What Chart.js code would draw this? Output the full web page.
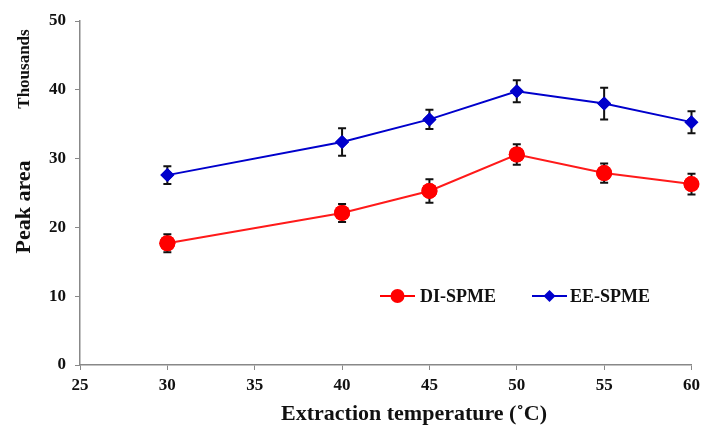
<!DOCTYPE html>
<html>
<head>
<meta charset="utf-8">
<script src="https://cdn.jsdelivr.net/npm/chart.js@4/dist/chart.umd.min.js"></script>
<style>
html,body{margin:0;padding:0;background:#fff;}
#wrap{position:relative;width:705px;height:428px;}
</style>
</head>
<body>
<div id="wrap"><canvas id="c" width="705" height="428"></canvas></div>
<script>
const temperatures = [30, 40, 45, 50, 55, 60];
const diSpme = [17.7, 22.1, 25.3, 30.6, 27.9, 26.3];
const diSpmeErr = [1.3, 1.3, 1.7, 1.5, 1.4, 1.5];
const eeSpme = [27.6, 32.4, 35.7, 39.8, 38.0, 35.3];
const eeSpmeErr = [1.3, 2.0, 1.4, 1.6, 2.3, 1.6];
const xTicks = [25, 30, 35, 40, 45, 50, 55, 60];
const yTicks = [0, 10, 20, 30, 40, 50];
const xTitle = 'Extraction temperature (˚C)';
const yTitle = 'Peak area';
const yUnit = 'Thousands';

const FONT = "'Liberation Serif', 'Times New Roman', serif";

const errorBars = {
  id: 'errorBars',
  afterDatasetsDraw(chart) {
    const ctx = chart.ctx;
    const xs = chart.scales.x, ys = chart.scales.y;
    ctx.save();
    ctx.strokeStyle = '#111';
    ctx.lineWidth = 2;
    chart.data.datasets.forEach(ds => {
      ds.data.forEach((p, i) => {
        const e = ds.errors[i];
        const px = xs.getPixelForValue(p.x);
        const top = ys.getPixelForValue(p.y + e);
        const bot = ys.getPixelForValue(p.y - e);
        ctx.beginPath();
        ctx.moveTo(px, top); ctx.lineTo(px, bot);
        ctx.moveTo(px - 4, top); ctx.lineTo(px + 4, top);
        ctx.moveTo(px - 4, bot); ctx.lineTo(px + 4, bot);
        ctx.stroke();
      });
    });
    ctx.restore();
    chart.data.datasets.forEach((ds, di) => {
      const meta = chart.getDatasetMeta(di);
      meta.data.forEach(pt => pt.draw(ctx, chart.chartArea));
    });
  }
};

const extras = {
  id: 'extras',
  afterDraw(chart) {
    const ctx = chart.ctx;
    ctx.save();
    ctx.fillStyle = '#111';
    ctx.textAlign = 'center';
    ctx.textBaseline = 'middle';
    // y unit label
    ctx.save();
    ctx.translate(25, 69);
    ctx.rotate(-Math.PI / 2);
    ctx.font = "bold 17px " + FONT;
    ctx.fillText(yUnit, 0, 0);
    ctx.restore();
    // y title
    ctx.save();
    ctx.translate(24, 207);
    ctx.rotate(-Math.PI / 2);
    ctx.font = "bold 22px " + FONT;
    ctx.fillText(yTitle, 0, 0);
    ctx.restore();
    // x title
    ctx.font = "bold 22px " + FONT;
    ctx.fillText(xTitle, 414, 414);
    ctx.restore();

    // legend
    const items = [
      {label: chart.data.datasets[0].label, color: '#ff0000', style: 'circle', x0: 380, tx: 420},
      {label: chart.data.datasets[1].label, color: '#0000cc', style: 'diamond', x0: 532, tx: 570}
    ];
    const y = 296;
    ctx.save();
    items.forEach(it => {
      ctx.strokeStyle = it.color;
      ctx.lineWidth = 2;
      ctx.beginPath();
      ctx.moveTo(it.x0, y); ctx.lineTo(it.x0 + 35, y);
      ctx.stroke();
      ctx.fillStyle = it.color;
      const cx = it.x0 + 17.5;
      ctx.beginPath();
      if (it.style === 'circle') {
        ctx.arc(cx, y, 7, 0, Math.PI * 2);
      } else {
        ctx.moveTo(cx, y - 6); ctx.lineTo(cx + 6, y); ctx.lineTo(cx, y + 6); ctx.lineTo(cx - 6, y); ctx.closePath();
      }
      ctx.fill();
      ctx.fillStyle = '#111';
      ctx.font = "bold 18px " + FONT;
      ctx.textAlign = 'left';
      ctx.textBaseline = 'middle';
      ctx.fillText(it.label, it.tx, y + 1);
    });
    ctx.restore();
  }
};

const toPoints = (ys) => temperatures.map((t, i) => ({x: t, y: ys[i]}));

new Chart(document.getElementById('c'), {
  type: 'line',
  data: {
    datasets: [
      {
        label: 'DI-SPME',
        data: toPoints(diSpme),
        errors: diSpmeErr,
        borderColor: '#ff1a1a',
        backgroundColor: '#ff0000',
        borderWidth: 2,
        pointStyle: 'circle',
        pointRadius: 8,
        pointBorderWidth: 0,
        pointBackgroundColor: '#ff0000',
        tension: 0
      },
      {
        label: 'EE-SPME',
        data: toPoints(eeSpme),
        errors: eeSpmeErr,
        borderColor: '#0000cc',
        backgroundColor: '#0000cc',
        borderWidth: 2,
        pointStyle: 'rectRot',
        pointRadius: 7,
        pointBorderWidth: 0,
        pointBackgroundColor: '#0000cc',
        tension: 0
      }
    ]
  },
  options: {
    responsive: false,
    animation: false,
    layout: {padding: {top: 21, right: 12, left: 0, bottom: 0}},
    plugins: {legend: {display: false}, tooltip: {enabled: false}},
    scales: {
      x: {
        type: 'linear',
        min: 25, max: 60,
        afterBuildTicks: (s) => { s.ticks = xTicks.map(v => ({value: v})); },
        afterFit: (s) => { s.height = 63; },
        border: {color: '#888', width: 1.5},
        grid: {display: true, drawOnChartArea: false, drawTicks: true, tickLength: 5, color: '#888'},
        ticks: {color: '#111', font: {family: FONT, size: 17, weight: 'bold'}, padding: 5, maxRotation: 0},
        title: {display: false}
      },
      y: {
        type: 'linear',
        min: 0, max: 50,
        afterBuildTicks: (s) => { s.ticks = yTicks.map(v => ({value: v})); },
        afterFit: (s) => { s.width = 80; },
        border: {color: '#888', width: 1.5},
        grid: {display: true, drawOnChartArea: false, drawTicks: true, tickLength: 5, color: '#888'},
        ticks: {color: '#111', font: {family: FONT, size: 17, weight: 'bold'}, padding: 9},
        title: {display: false}
      }
    }
  },
  plugins: [errorBars, extras]
});
</script>
</body>
</html>
